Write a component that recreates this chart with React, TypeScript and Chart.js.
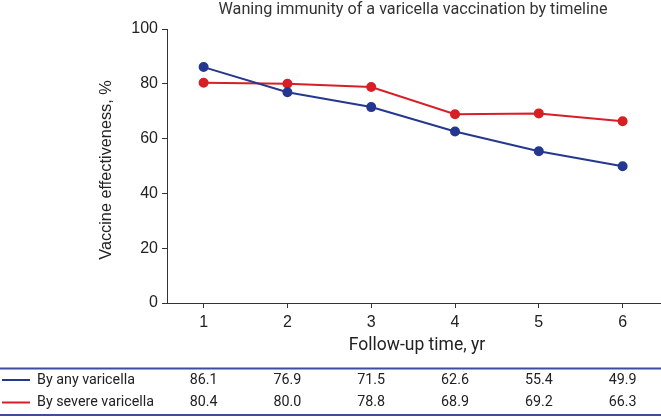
import React, { useEffect, useRef } from "react";
import { Chart, registerables } from "chart.js";

Chart.register(...registerables);

const TITLE = "Waning immunity of a varicella vaccination by timeline";
const X_TITLE = "Follow-up time, yr";
const Y_TITLE = "Vaccine effectiveness, %";
const years = [1, 2, 3, 4, 5, 6];
const anyVaricella = [86.1, 76.9, 71.5, 62.6, 55.4, 49.9];
const severeVaricella = [80.4, 80.0, 78.8, 68.9, 69.2, 66.3];
const seriesNames = ["By any varicella", "By severe varicella"];
const yTicks = [0, 20, 40, 60, 80, 100];

const BLUE = "#25378f";
const RED = "#d71f26";
const RULE = "#3d4c9c";
const HUMANIST = "Roboto, 'Noto Sans', sans-serif";
const ARIAL = "'Liberation Sans', Arial, sans-serif";

const overlay = {
  id: "overlay",
  afterDraw(chart: any) {
    const ctx = chart.ctx;
    const xs = chart.scales.x;
    ctx.save();
    ctx.textAlign = "center";
    ctx.textBaseline = "middle";
    // title
    ctx.fillStyle = "#333";
    ctx.font = `16.2px ${HUMANIST}`;
    ctx.fillText(TITLE, 413, 10);
    // x title
    ctx.fillStyle = "#222";
    ctx.font = `17.5px ${HUMANIST}`;
    ctx.fillText(X_TITLE, 417, 346);
    // y title
    ctx.save();
    ctx.translate(107, 170);
    ctx.rotate(-Math.PI / 2);
    ctx.font = `16.3px ${ARIAL}`;
    ctx.fillStyle = "#222";
    ctx.fillText(Y_TITLE, 0, 0);
    ctx.restore();
    // table rules
    ctx.strokeStyle = RULE;
    ctx.lineWidth = 2;
    ctx.beginPath();
    ctx.moveTo(0, 368.5);
    ctx.lineTo(chart.width, 368.5);
    ctx.moveTo(0, 415);
    ctx.lineTo(chart.width, 415);
    ctx.stroke();
    const rows = [
      { name: seriesNames[0], vals: anyVaricella, color: BLUE, y: 380 },
      { name: seriesNames[1], vals: severeVaricella, color: RED, y: 402.5 },
    ];
    ctx.font = `14.3px ${HUMANIST}`;
    rows.forEach((r) => {
      ctx.strokeStyle = r.color;
      ctx.lineWidth = 2;
      ctx.beginPath();
      ctx.moveTo(2, r.y);
      ctx.lineTo(30, r.y);
      ctx.stroke();
      ctx.fillStyle = "#222";
      ctx.textAlign = "left";
      ctx.fillText(r.name, 37, r.y);
      ctx.textAlign = "center";
      r.vals.forEach((v, i) => {
        ctx.fillText(v.toFixed(1), xs.getPixelForValue(years[i]), r.y);
      });
    });
    ctx.restore();
  },
};

export default function App() {
  const ref = useRef<HTMLCanvasElement>(null);
  useEffect(() => {
    if (!ref.current) return;
    const chart = new Chart(ref.current, {
      type: "line",
      data: {
        datasets: [
          {
            label: seriesNames[0],
            data: years.map((x, i) => ({ x, y: anyVaricella[i] })),
            borderColor: BLUE,
            backgroundColor: BLUE,
            borderWidth: 2,
            pointRadius: 4,
            pointHoverRadius: 4,
          },
          {
            label: seriesNames[1],
            data: years.map((x, i) => ({ x, y: severeVaricella[i] })),
            borderColor: RED,
            backgroundColor: RED,
            borderWidth: 2,
            pointRadius: 4,
            pointHoverRadius: 4,
          },
        ],
      },
      options: {
        animation: false,
        responsive: false,
        layout: { autoPadding: false, padding: { top: 29, left: 0, right: 0, bottom: 0 } },
        plugins: { legend: { display: false }, tooltip: { enabled: false }, title: { display: false } },
        scales: {
          x: {
            type: "linear",
            min: 0.563,
            max: 6.458,
            afterBuildTicks: (s: any) => {
              s.ticks = years.map((v) => ({ value: v }));
            },
            afterFit: (s: any) => {
              s.height = 114;
              s.paddingLeft = 0;
              s.paddingRight = 0;
            },
            border: { color: "#333", width: 1 },
            grid: { display: true, drawOnChartArea: false, drawTicks: true, tickLength: 5, color: "#333" },
            ticks: { color: "#222", font: { family: ARIAL, size: 16 }, padding: 5, maxRotation: 0 },
          },
          y: {
            min: 0,
            max: 100,
            afterBuildTicks: (s: any) => {
              s.ticks = yTicks.map((v) => ({ value: v }));
            },
            afterFit: (s: any) => {
              s.width = 167;
              s.paddingTop = 0;
              s.paddingBottom = 0;
            },
            border: { color: "#333", width: 1 },
            grid: { display: true, drawOnChartArea: false, drawTicks: true, tickLength: 5, color: "#333" },
            ticks: { color: "#222", font: { family: ARIAL, size: 16 }, padding: 4 },
          },
        },
      },
      plugins: [overlay],
    });
    return () => chart.destroy();
  }, []);
  return (
    <div style={{ position: "absolute", left: 0, top: 0, width: 661, height: 417, background: "#fff" }}>
      <canvas ref={ref} width={661} height={417} style={{ display: "block" }} />
    </div>
  );
}
